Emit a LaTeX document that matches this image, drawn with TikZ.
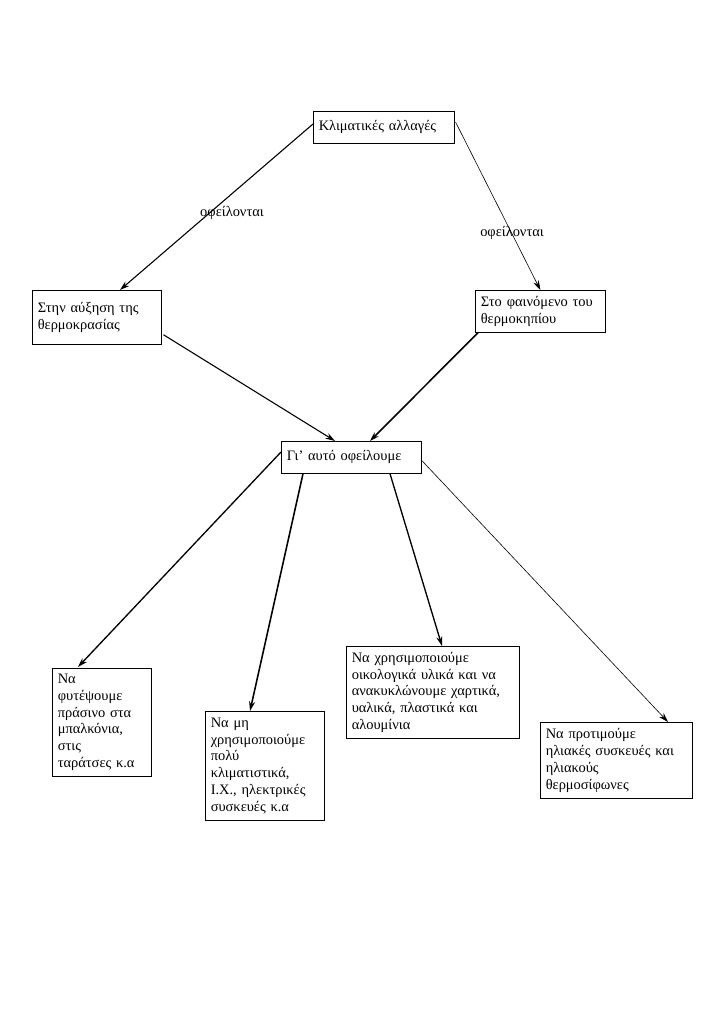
\documentclass[tikz,border=0pt]{standalone}
\usepackage{fontspec}
\setmainfont{Liberation Serif}
\usetikzlibrary{arrows.meta,calc}
\tikzset{
  box/.style={draw, line width=0.6pt, anchor=north west, align=left,
    inner xsep=4.5pt, inner ysep=2pt, font=\fontsize{12}{13.9}\selectfont},
  lbl/.style={font=\fontsize{12}{13.9}\selectfont},
  arr/.style={-{Stealth[length=8pt,width=5pt]}, line width=0.9pt},
}
\begin{document}
\begin{tikzpicture}[x=0.831pt,y=-0.831pt]
      \useasboundingbox[fill=white] (0,0) rectangle (716,1013);

      % boxes
      \node[box, text width=108pt, minimum height=26.6pt] (klima) at (313,111) {Κλιματικές αλλαγές};
      \node[box, text width=98pt, minimum height=44.9pt] (auxisi) at (32,290) {Στην αύξηση της\\θερμοκρασίας};
      \node[box, text width=99pt, minimum height=34.9pt] (thermo) at (475,290) {Στο φαινόμενο του\\θερμοκηπίου};
      \node[box, text width=107pt, minimum height=26.6pt] (ofeil) at (281,441) {Γι’ αυτό οφείλουμε};

      \node[box, text width=73pt, minimum height=89.7pt] (fyt) at (52,668) {Να\\φυτέψουμε\\πράσινο στα\\μπαλκόνια,\\στις\\ταράτσες κ.α};
      \node[box, text width=90pt, minimum height=90.6pt] (klim) at (205,711) {Να μη\\χρησιμοποιούμε\\πολύ\\κλιματιστικά,\\Ι.Χ., ηλεκτρικές\\συσκευές κ.α};
      \node[box, text width=135pt, minimum height=76.4pt] (anak) at (346,646) {Να χρησιμοποιούμε\\οικολογικά υλικά και να\\ανακυκλώνουμε χαρτικά,\\υαλικά, πλαστικά και\\αλουμίνια};
      \node[box, text width=117pt, minimum height=63.2pt] (ilia) at (540,722) {Να προτιμούμε\\ηλιακές συσκευές και\\ηλιακούς\\θερμοσίφωνες};

      % labels
      \node[lbl] (of1) at (232,213) {οφείλονται};
      \node[lbl] (of2) at (512,233) {οφείλονται};

      % arrows
      \draw[arr] ($(klima.north west)+(0,13)$) -- ($(auxisi.north west)+(88,0)$);
      \draw[arr, line width=0.5pt] ($(klima.north east)+(1,11)$) -- (thermo.north);
      \draw[arr] ($(auxisi.south east)+(2,-10)$) -- ($(ofeil.north west)+(54,0)$);
      \draw[arr, line width=1.3pt] ($(thermo.south west)+(3,0)$) -- ($(ofeil.north west)+(89,0)$);
      \draw[arr, line width=1.1pt] ($(ofeil.north west)+(0,11)$) -- ($(fyt.north west)+(26,-1)$);
      \draw[arr, line width=1.3pt] ($(ofeil.south west)+(22,0)$) -- ($(klim.north west)+(45,0)$);
      \draw[arr, line width=1.1pt] ($(ofeil.south west)+(109,0)$) -- ($(anak.north west)+(96,0)$);
      \draw[arr, line width=0.5pt] ($(ofeil.north east)+(0,19)$) -- ($(ilia.north west)+(128,0)$);
   \end{tikzpicture}
\end{document}
